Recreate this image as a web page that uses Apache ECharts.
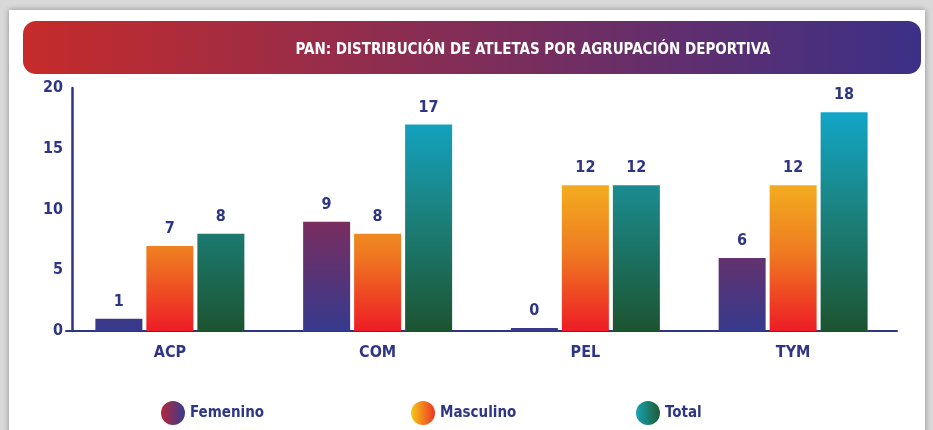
<!DOCTYPE html>
<html>
<head>
<meta charset="utf-8">
<script src="https://cdn.jsdelivr.net/npm/echarts@6/dist/echarts.min.js"></script>
<style>
  html, body { margin: 0; padding: 0; width: 933px; height: 430px; background: #d9d9d9; overflow: hidden; }
  .card { position: absolute; left: 9px; top: 10px; width: 916px; height: 440px; background: #fff; box-shadow: 0 0 6px rgba(0,0,0,0.35); }
  #chart { position: absolute; left: 0; top: 0; width: 933px; height: 430px; }
</style>
</head>
<body>
<div class="card"></div>
<div id="chart"></div>
<script>
const categories = ['ACP', 'COM', 'PEL', 'TYM']
const femenino = [1, 9, 0, 6]
const masculino = [7, 8, 12, 12]
const total = [8, 17, 12, 18]
const yTicks = [0, 5, 10, 15, 20]

const FONT = '"DejaVu Sans Condensed", "Liberation Sans Narrow", sans-serif'
const NAVY = '#2e3584'

// degradados globales en pixeles (como en la imagen)
const vGrad = (y0, y1, stops) => new echarts.graphic.LinearGradient(0, y0, 0, y1,
  stops.map(s => ({ offset: s[0], color: s[1] })), true)
const hGrad = (a, b) => new echarts.graphic.LinearGradient(0, 0, 1, 0,
  [{ offset: 0, color: a }, { offset: 1, color: b }])

const chart = echarts.init(document.getElementById('chart'), null, { renderer: 'canvas' })

const barLabel = {
  show: true, position: 'top', distance: 9,
  color: NAVY, fontFamily: FONT, fontWeight: 'bold', fontSize: 16
}

const legendBase = (left, name, color) => ({
  left, top: 396, icon: 'circle', itemWidth: 24, itemHeight: 24, itemGap: 0,
  selectedMode: false,
  textStyle: { color: NAVY, fontFamily: FONT, fontWeight: 'bold', fontSize: 15, padding: [0, 0, 0, 0] },
  data: [{ name, itemStyle: { color } }]
})

chart.setOption({
  animation: false,
  title: {
    text: 'PAN: DISTRIBUCIÓN DE ATLETAS POR AGRUPACIÓN DEPORTIVA',
    left: 528, top: 38, textAlign: 'center',
    textStyle: { color: '#fff', fontFamily: FONT, fontWeight: 'bold', fontSize: 15 }
  },
  graphic: [{
    type: 'rect', z: -1,
    shape: { x: 23, y: 21, width: 898, height: 53, r: 13 },
    style: { fill: hGrad('#c62b2a', '#3b3087') }
  }],
  legend: [
    legendBase(156, 'Femenino', hGrad('#b3283a', '#393a8e')),
    legendBase(406, 'Masculino', hGrad('#f6c918', '#ec3423')),
    legendBase(631, 'Total', hGrad('#1aa3b3', '#1c5a31'))
  ],
  grid: { left: 66, right: 36, top: 88, bottom: 99 },
  xAxis: {
    type: 'category', data: categories,
    axisLine: { lineStyle: { color: NAVY, width: 2 } },
    axisTick: { show: false },
    axisLabel: { color: NAVY, fontFamily: FONT, fontWeight: 'bold', fontSize: 16, margin: 14 }
  },
  yAxis: {
    type: 'value', min: yTicks[0], max: yTicks[yTicks.length - 1], interval: 5,
    offset: -6,
    axisLine: { show: true, lineStyle: { color: NAVY, width: 2.5 } },
    axisTick: { show: false },
    splitLine: { show: false },
    axisLabel: { color: NAVY, fontFamily: FONT, fontWeight: 'bold', fontSize: 16, margin: 9 }
  },
  series: [
    {
      name: 'Femenino', type: 'bar', data: femenino, barWidth: 47, barGap: '8.5%', barMinHeight: 3,
      itemStyle: { color: vGrad(200, 331, [[0, '#862b56'], [1, '#363a8e']]) },
      label: barLabel
    },
    {
      name: 'Masculino', type: 'bar', data: masculino, barWidth: 47, barMinHeight: 3,
      itemStyle: { color: vGrad(190, 331, [[0, '#f2a91f'], [0.45, '#ef7a21'], [1, '#ee1c26']]) },
      label: barLabel
    },
    {
      name: 'Total', type: 'bar', data: total, barWidth: 47, barMinHeight: 3,
      itemStyle: { color: vGrad(100, 331, [[0, '#10aad0'], [0.45, '#1b8584'], [1, '#1c5430']]) },
      label: barLabel
    }
  ]
})
</script>
</body>
</html>
